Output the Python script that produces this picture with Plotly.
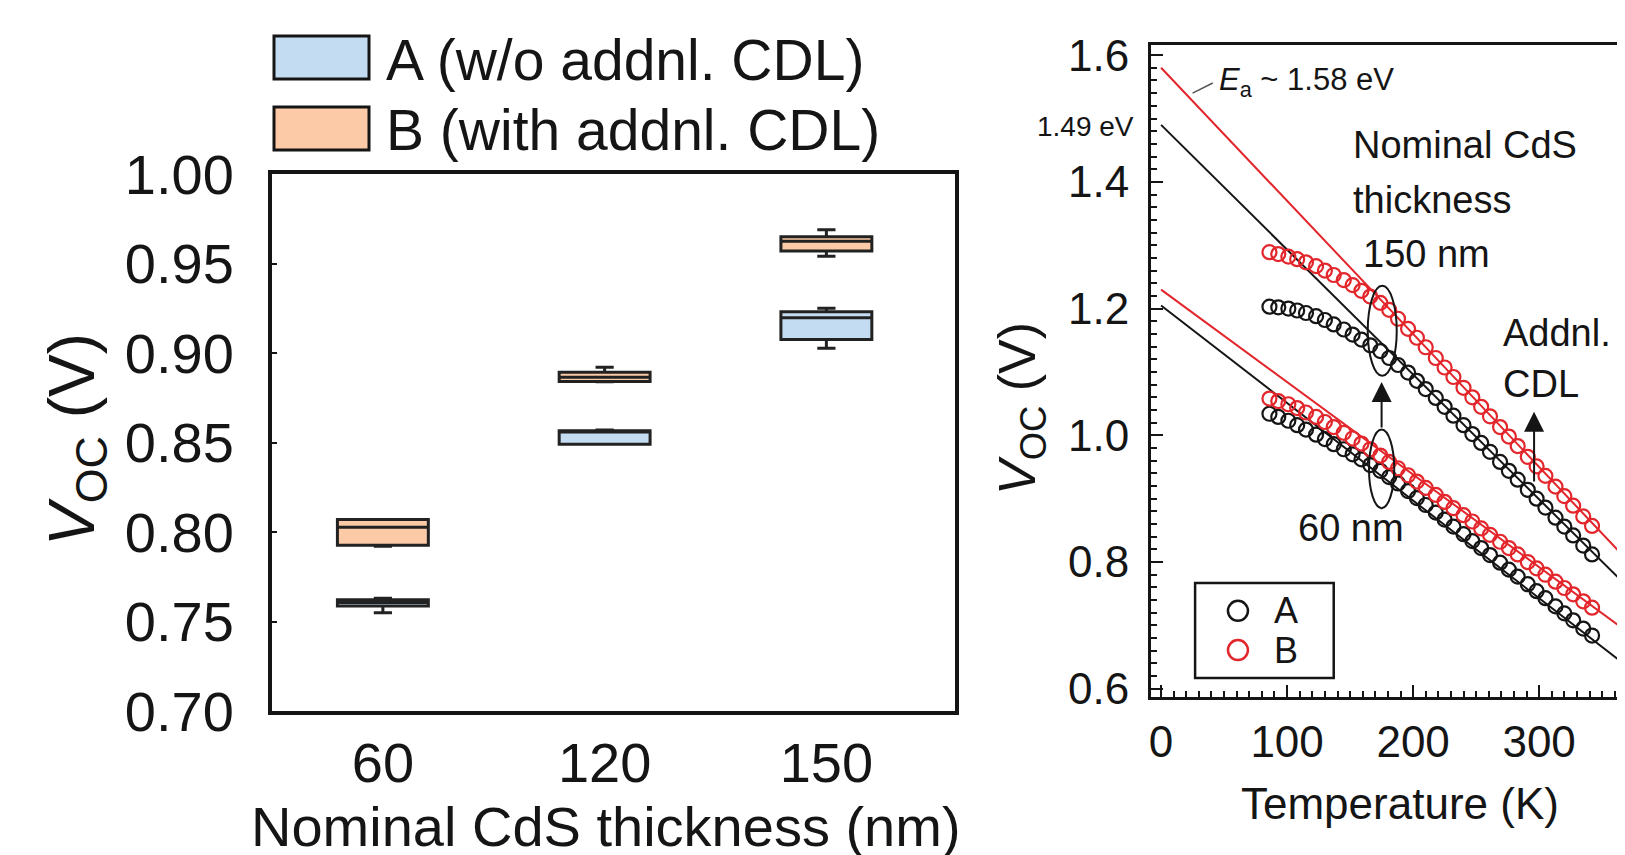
import plotly.graph_objects as go

# ---------------- left panel: V_OC spread per nominal CdS thickness ----------------
thickness = ["60", "120", "150"]

# sample A (w/o addnl. CDL)
a_lower = [0.7549, 0.8490, 0.9027]
a_q1 = [0.7586, 0.8490, 0.9076]
a_median = [0.7606, 0.8558, 0.9197]
a_q3 = [0.7622, 0.8565, 0.9230]
a_upper = [0.7630, 0.8570, 0.9250]

# sample B (with addnl. CDL)
b_lower = [0.7920, 0.8840, 0.9540]
b_q1 = [0.7926, 0.8841, 0.9570]
b_median = [0.8026, 0.8865, 0.9625]
b_q3 = [0.8070, 0.8893, 0.9649]
b_upper = [0.8070, 0.8920, 0.9688]

# ---------------- right panel: V_OC vs temperature ----------------
temperature = [86, 93, 101, 108, 115, 123, 130, 137, 145, 152, 159, 166,
               174, 181, 188, 196, 203, 210, 218, 225, 232, 240, 247, 254,
               261, 269, 276, 283, 291, 298, 305, 313, 320, 327, 335, 342]

voc_a_150 = [1.203, 1.202, 1.200, 1.197, 1.193, 1.188, 1.182, 1.175, 1.167,
             1.159, 1.151, 1.142, 1.133, 1.122, 1.111, 1.099, 1.086, 1.073,
             1.059, 1.045, 1.031, 1.016, 1.002, 0.988, 0.974, 0.958, 0.944,
             0.930, 0.914, 0.900, 0.886, 0.870, 0.856, 0.842, 0.826, 0.812]
voc_b_150 = [1.289, 1.286, 1.282, 1.278, 1.273, 1.267, 1.260, 1.253, 1.245,
             1.237, 1.228, 1.219, 1.209, 1.198, 1.184, 1.168, 1.154, 1.139,
             1.122, 1.107, 1.092, 1.075, 1.060, 1.045, 1.030, 1.013, 0.998,
             0.983, 0.966, 0.951, 0.936, 0.919, 0.904, 0.889, 0.872, 0.857]
voc_a_60 = [1.034, 1.029, 1.023, 1.016, 1.009, 1.001, 0.994, 0.986, 0.978,
            0.970, 0.962, 0.953, 0.944, 0.934, 0.924, 0.912, 0.901, 0.890,
            0.878, 0.867, 0.856, 0.844, 0.833, 0.822, 0.811, 0.799, 0.788,
            0.777, 0.765, 0.754, 0.743, 0.730, 0.719, 0.708, 0.695, 0.684]
voc_b_60 = [1.058, 1.054, 1.049, 1.043, 1.036, 1.029, 1.021, 1.013, 1.004,
            0.995, 0.987, 0.978, 0.968, 0.958, 0.948, 0.937, 0.927, 0.917,
            0.906, 0.895, 0.885, 0.874, 0.864, 0.853, 0.843, 0.832, 0.822,
            0.812, 0.800, 0.790, 0.780, 0.769, 0.759, 0.749, 0.738, 0.728]

# linear extrapolations to T = 0 K (B-150, A-150, B-60, A-60)
fit_intercepts = [1.58, 1.49, 1.23, 1.205]
fit_slopes = [-0.00210, -0.00197, -0.00146, -0.00154]
fit_is_b = [True, False, True, False]
fit_t = [0, 390]

FONT = "Liberation Sans, Arial, Helvetica, sans-serif"
BLUE_FILL = "#c4dcf1"
ORANGE_FILL = "#fccaa6"
EDGE = "#222222"
RED = "#e3262b"
BLACK = "#151515"

W, H = 1625, 855
PAGE_OFFSET = 8  # the page body margin shifts the whole figure


def px_x(p):
    return (p - PAGE_OFFSET) / W


def px_y(p):
    return 1 - (p - PAGE_OFFSET) / H


fig = go.Figure()

# box summaries
for name, lo, q1, med, q3, hi, fill in [
    ("A (w/o addnl. CDL)", a_lower, a_q1, a_median, a_q3, a_upper, BLUE_FILL),
    ("B (with addnl. CDL)", b_lower, b_q1, b_median, b_q3, b_upper, ORANGE_FILL),
]:
    fig.add_trace(go.Box(
        x=thickness, q1=q1, median=med, q3=q3,
        lowerfence=lo, upperfence=hi,
        name=name, fillcolor=fill,
        line=dict(color=EDGE, width=3),
        width=0.41, whiskerwidth=0.2, boxpoints=False,
        xaxis="x", yaxis="y", showlegend=False,
    ))

# fit lines
for b0, slope, is_b in zip(fit_intercepts, fit_slopes, fit_is_b):
    fig.add_trace(go.Scatter(
        x=fit_t, y=[b0 + slope * t for t in fit_t],
        mode="lines", line=dict(color=RED if is_b else BLACK, width=2),
        xaxis="x2", yaxis="y2", showlegend=False, hoverinfo="skip",
    ))

# measured points
for vals, color in [(voc_a_150, BLACK), (voc_b_150, RED),
                    (voc_a_60, BLACK), (voc_b_60, RED)]:
    fig.add_trace(go.Scatter(
        x=temperature, y=vals, mode="markers",
        marker=dict(symbol="circle-open", size=14, color=color,
                    line=dict(width=2.2, color=color)),
        xaxis="x2", yaxis="y2", showlegend=False,
    ))

shapes = []
annotations = []

# left legend (drawn by hand to match the big swatches)
for top, bottom, fill, label, ty in [
    (36, 79, BLUE_FILL, "A (w/o addnl. CDL)", 60),
    (107, 150, ORANGE_FILL, "B (with addnl. CDL)", 130),
]:
    shapes.append(dict(type="rect", xref="paper", yref="paper",
                       x0=px_x(274), x1=px_x(369), y0=px_y(bottom), y1=px_y(top),
                       fillcolor=fill, line=dict(color=BLACK, width=3)))
    annotations.append(dict(text=label, xref="paper", yref="paper",
                            x=px_x(384), y=px_y(ty), xanchor="left", yanchor="middle",
                            showarrow=False, font=dict(size=57, color=BLACK)))

# left axis titles
annotations.append(dict(text="<i>V</i><sub>OC</sub> (V)", xref="paper", yref="paper",
                        x=px_x(76), y=px_y(440), textangle=-90, showarrow=False,
                        xanchor="center", yanchor="middle",
                        font=dict(size=64, color=BLACK)))
annotations.append(dict(text="Nominal CdS thickness (nm)", xref="paper", yref="paper",
                        x=px_x(606), y=px_y(826), showarrow=False,
                        xanchor="center", yanchor="middle",
                        font=dict(size=56, color=BLACK)))

# right axis titles
annotations.append(dict(text="<i>V</i><sub>OC</sub> (V)", xref="paper", yref="paper",
                        x=px_x(1021), y=px_y(409), textangle=-90, showarrow=False,
                        xanchor="center", yanchor="middle",
                        font=dict(size=52, color=BLACK)))
annotations.append(dict(text="Temperature (K)", xref="paper", yref="paper",
                        x=px_x(1400), y=px_y(803), showarrow=False,
                        xanchor="center", yanchor="middle",
                        font=dict(size=44, color=BLACK)))

# right panel text labels
annotations.append(dict(text="1.49 eV", xref="paper", yref="y2",
                        x=px_x(1136), y=1.487, xanchor="right", yanchor="middle",
                        showarrow=False, font=dict(size=28, color=BLACK)))
annotations.append(dict(text="<i>E</i><sub>a</sub> ~ 1.58 eV", xref="x2", yref="y2",
                        x=44, y=1.557, xanchor="left", yanchor="middle",
                        showarrow=False, font=dict(size=31, color=BLACK)))
shapes.append(dict(type="line", xref="x2", yref="y2", x0=25, y0=1.540, x1=41, y1=1.556,
                   line=dict(color="#555555", width=1.5)))

for txt, tx, ty, anchor in [
    ("Nominal CdS", 151, 1.458, "left"),
    ("thickness", 151, 1.371, "left"),
    ("150 nm", 159, 1.286, "left"),
    ("Addnl.", 270, 1.161, "left"),
    ("CDL", 270, 1.081, "left"),
    ("60 nm", 151, 0.854, "center"),
]:
    annotations.append(dict(text=txt, xref="x2", yref="y2", x=tx, y=ty,
                            xanchor=anchor, yanchor="middle", showarrow=False,
                            font=dict(size=38, color=BLACK)))

# ellipses grouping the thickness pairs
for x0, x1, y0, y1 in [(164, 187, 1.094, 1.236), (165, 185, 0.885, 1.009)]:
    shapes.append(dict(type="circle", xref="x2", yref="y2",
                       x0=x0, x1=x1, y0=y0, y1=y1,
                       line=dict(color=BLACK, width=2)))

# upward arrows (additional CDL raises V_OC)
for ax_t, y_from, y_to in [(175, 1.009, 1.084), (296, 0.924, 1.037)]:
    annotations.append(dict(text=" ", xref="x2", yref="y2", axref="x2", ayref="y2",
                            x=ax_t, y=y_to, ax=ax_t, ay=y_from,
                            showarrow=True, arrowhead=2, arrowsize=2,
                            arrowwidth=2, arrowcolor=BLACK, font=dict(size=1)))

# right legend box
shapes.append(dict(type="rect", xref="x2", yref="y2", x0=27, x1=137, y0=0.617, y1=0.767,
                   line=dict(color=BLACK, width=2.5), fillcolor="white", layer="above"))
for yy, color, label in [(0.723, BLACK, "A"), (0.661, RED, "B")]:
    shapes.append(dict(type="circle", xref="x2", yref="y2",
                       xsizemode="pixel", ysizemode="pixel",
                       xanchor=61, yanchor=yy, x0=-10, x1=10, y0=-10, y1=10,
                       line=dict(color=color, width=2.5), layer="above"))
    annotations.append(dict(text=label, xref="x2", yref="y2", x=99, y=yy,
                            xanchor="center", yanchor="middle", showarrow=False,
                            font=dict(size=36, color=BLACK)))

fig.update_layout(
    width=W, height=H,
    margin=dict(l=0, r=0, t=0, b=0, autoexpand=False),
    paper_bgcolor="white", plot_bgcolor="white",
    font=dict(family=FONT, color=BLACK),
    boxmode="overlay",
    showlegend=False,
    xaxis=dict(
        domain=[px_x(272), px_x(955)], anchor="y", automargin=False,
        type="category", categoryorder="array", categoryarray=thickness,
        range=[-0.5, 2.58],
        showline=True, linecolor=BLACK, linewidth=4, mirror=True,
        showgrid=False, zeroline=False, ticks="",
        ticklabelstandoff=0,
        tickfont=dict(size=56, color=BLACK),
    ),
    yaxis=dict(
        domain=[px_y(711), px_y(174)], anchor="x", automargin=False,
        range=[0.70, 1.00], tick0=0.70, dtick=0.05, tickformat=".2f",
        showline=True, linecolor=BLACK, linewidth=4, mirror=True,
        showgrid=False, zeroline=False,
        ticks="inside", ticklen=5, tickwidth=1.5, tickcolor=BLACK,
        ticklabelstandoff=23,
        tickfont=dict(size=56, color=BLACK),
    ),
    xaxis2=dict(
        domain=[px_x(1151), 1.0], anchor="y2", automargin=False,
        range=[-8, 374.5], tick0=0, dtick=100,
        showline=True, linecolor=BLACK, linewidth=3, mirror=True,
        showgrid=False, zeroline=False,
        ticks="inside", ticklen=12, tickwidth=2, tickcolor=BLACK,
        minor=dict(ticks="inside", dtick=10, ticklen=6, tickwidth=1.5, tickcolor=BLACK),
        ticklabelstandoff=4,
        tickfont=dict(size=44, color=BLACK),
    ),
    yaxis2=dict(
        domain=[px_y(697), px_y(45)], anchor="x2", automargin=False,
        range=[0.587, 1.616], tick0=0.6, dtick=0.2, tickformat=".1f",
        showline=True, linecolor=BLACK, linewidth=3,
        showgrid=False, zeroline=False,
        ticks="inside", ticklen=12, tickwidth=2, tickcolor=BLACK,
        minor=dict(ticks="inside", dtick=0.02, ticklen=6, tickwidth=1.5, tickcolor=BLACK),
        ticklabelstandoff=10,
        tickfont=dict(size=44, color=BLACK),
    ),
    shapes=shapes,
    annotations=annotations,
)

fig.write_html("out.html")
